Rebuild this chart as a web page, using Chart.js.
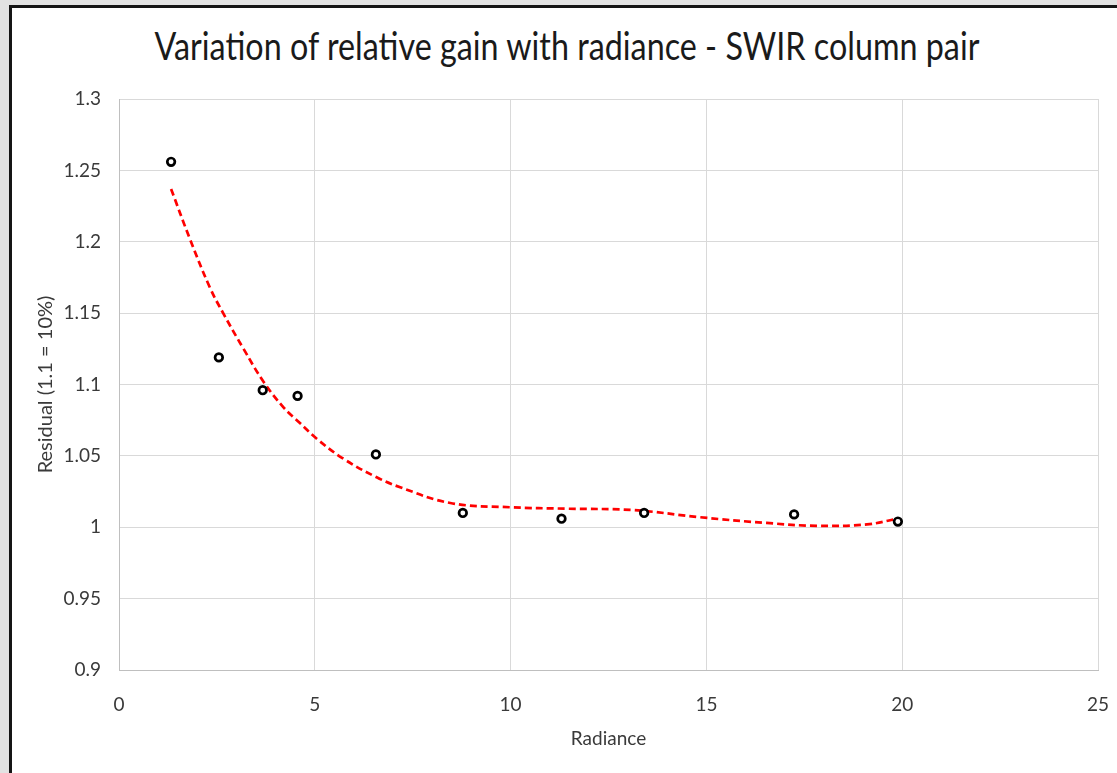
<!DOCTYPE html>
<html>
<head>
<meta charset="utf-8">
<script src="https://cdn.jsdelivr.net/npm/chart.js@4"></script>
<style>
  html, body { margin: 0; padding: 0; overflow: hidden; }
  body { width: 1117px; height: 773px; background: #e2e2e2; position: relative; }
  #frame { position: absolute; left: 9px; top: 5px; width: 1105px; height: 765px;
           background: #fff; border-left: 3px solid #151515; border-top: 3px solid #151515; }
  #title { position: absolute; left: 0; top: 26px; width: 1134px; text-align: center;
           font-family: Lato, sans-serif; font-size: 38px; line-height: 1; color: #1a1a1a;
           transform: scaleX(0.85); transform-origin: 567px 0; white-space: nowrap; }
  #chart { position: absolute; left: 0; top: 0; }
</style>
</head>
<body>
<div id="frame"></div>
<div id="title">Variation of relative gain with radiance - SWIR column pair</div>
<canvas id="chart" width="1117" height="773"></canvas>
<script>
// measured points
const radiance = [1.33, 2.55, 3.67, 4.56, 6.56, 8.78, 11.30, 13.41, 17.24, 19.89];
const residual = [1.256, 1.119, 1.096, 1.092, 1.051, 1.010, 1.006, 1.010, 1.009, 1.004];

// polynomial trendline, sampled along the curve
const trendX = [1.33, 1.81, 2.32, 2.66, 3.18, 3.69, 4.20, 4.62, 5.05, 5.73, 6.58, 7.18, 8.46, 9.99, 11.44, 13.14, 14.84, 16.54, 17.82, 19.10, 19.87];
const trendY = [1.237, 1.202, 1.168, 1.150, 1.125, 1.102, 1.084, 1.073, 1.062, 1.048, 1.035, 1.028, 1.017, 1.014, 1.013, 1.012, 1.007, 1.003, 1.001, 1.002, 1.006];

// axis ticks
const xTicks = [0, 5, 10, 15, 20, 25];
const yTicks = [0.9, 0.95, 1, 1.05, 1.1, 1.15, 1.2, 1.25, 1.3];

const pts = radiance.map((x, i) => ({ x: x, y: residual[i] }));
const trend = trendX.map((x, i) => ({ x: x, y: trendY[i] }));

Chart.defaults.font.family = 'Lato, sans-serif';
Chart.defaults.color = '#3a3a3a';

new Chart(document.getElementById('chart'), {
  type: 'scatter',
  data: {
    datasets: [
      { label: 'Residual', data: pts, pointStyle: 'circle', pointRadius: 3.8, pointBorderWidth: 2.7,
        pointBorderColor: '#000', pointBackgroundColor: '#fff', pointHoverRadius: 3.8 },
      { label: 'Trend', data: trend, showLine: true, pointRadius: 0, borderColor: '#ff0000',
        borderWidth: 2.7, borderDash: [7, 4], tension: 0.4 }
    ]
  },
  options: {
    responsive: false,
    animation: false,
    layout: { padding: { top: 99, right: 19, bottom: 0, left: 0 } },
    plugins: { legend: { display: false }, tooltip: { enabled: false } },
    scales: {
      x: {
        type: 'linear', min: 0, max: 25,
        afterBuildTicks: s => { s.ticks = xTicks.map(v => ({ value: v })); },
        // fixed band height; drop the extra side padding added for the end labels
        afterFit: s => { s.height = 103; s.paddingLeft = 0; s.paddingRight = 0; },
        ticks: { padding: 23, font: { size: 19 } },
        grid: { color: '#d9d9d9', drawTicks: false },
        border: { color: '#bfbfbf', width: 1 },
        title: { display: true, text: 'Radiance', font: { size: 19 }, padding: { bottom: 23 } }
      },
      y: {
        type: 'linear', min: 0.9, max: 1.3,
        afterBuildTicks: s => { s.ticks = yTicks.map(v => ({ value: v })); },
        afterFit: s => { s.width = 119; },
        ticks: { padding: 18, font: { size: 19 },
                 callback: v => String(parseFloat(v.toFixed(2))) },
        grid: { color: '#d9d9d9', drawTicks: false },
        border: { color: '#bfbfbf', width: 1 },
        title: { display: true, text: 'Residual (1.1 = 10%)', font: { size: 20 }, padding: { top: 34 } }
      }
    }
  }
});
</script>
</body>
</html>
